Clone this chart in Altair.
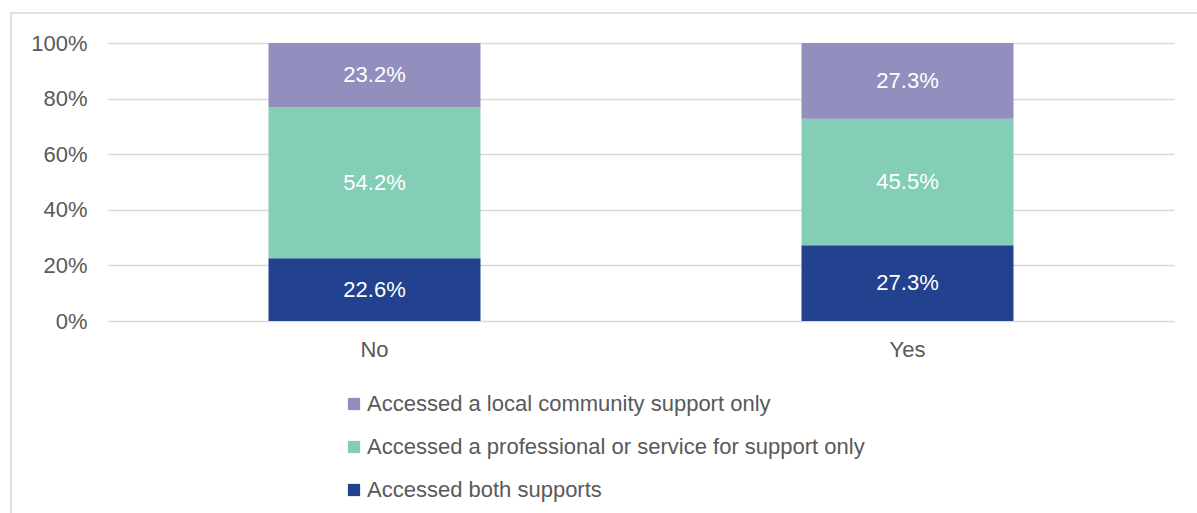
import altair as alt
import pandas as pd

groups = ["No", "Yes"]
series = [
    "Accessed a local community support only",
    "Accessed a professional or service for support only",
    "Accessed both supports",
]
colors = ["#928fbe", "#84cdb7", "#22418e"]
# values per series, for groups No / Yes
local_only = [23.2, 27.3]
professional_only = [54.2, 45.5]
both = [22.6, 27.3]

rows = []
for i, g in enumerate(groups):
    for s, vals, order in [(series[2], both, 0), (series[1], professional_only, 1), (series[0], local_only, 2)]:
        rows.append({"group": g, "series": s, "value": vals[i], "order": order})
df = pd.DataFrame(rows)

FONT = "Liberation Sans"
GREY = "#595959"
FS = 22

base = alt.Chart(df).transform_stack(
    stack="value", groupby=["group"], as_=["y0", "y1"],
    sort=[alt.SortField("order", order="ascending")], offset="normalize"
).transform_calculate(ymid="(datum.y0 + datum.y1) / 2")

x_enc = alt.X("group:N", sort=groups, title=None,
              scale=alt.Scale(paddingInner=0, paddingOuter=0),
              axis=alt.Axis(labelAngle=0, ticks=False, domain=False, labelPadding=18,
                            labelFontSize=FS, labelColor=GREY, labelFont=FONT, grid=False))

bars = base.mark_bar(size=212).encode(
    x=x_enc,
    y=alt.Y("y0:Q", scale=alt.Scale(domain=[0, 1]), title=None,
            axis=alt.Axis(format="%", values=[0, 0.2, 0.4, 0.6, 0.8, 1.0], ticks=False,
                          domain=False, labelPadding=21, labelFontSize=FS, labelColor=GREY,
                          labelFont=FONT, gridColor="#d9d9d9", gridWidth=1.5)),
    y2="y1:Q",
    color=alt.Color("series:N", scale=alt.Scale(domain=series, range=colors),
                    legend=alt.Legend(title=None, orient="none", legendX=235, legendY=350,
                                      direction="vertical", symbolType="square", symbolSize=150,
                                      symbolStrokeWidth=0, labelFontSize=FS, labelColor=GREY,
                                      labelFont=FONT, rowPadding=21, labelOffset=2,
                                      labelLimit=0)),
    order=alt.Order("order:Q"),
)

labels = base.mark_text(color="white", fontSize=FS, font=FONT).encode(
    x=alt.X("group:N", sort=groups),
    y=alt.Y("ymid:Q"),
).transform_calculate(label="format(datum.value, '.1f') + '%'").encode(text="label:N")

border = alt.Chart(pd.DataFrame({"a": [0]})).mark_rect(
    fill=None, stroke="#d9d9d9", strokeWidth=1.5
).encode(x=alt.value(-97), x2=alt.value(1095), y=alt.value(-30), y2=alt.value(500))

chart = alt.layer(border, bars, labels).properties(
    width=1066, height=278,
    autosize=alt.AutoSizeParams(type="none"),
    padding={"left": 108, "top": 43, "right": 23, "bottom": 192},
    background="white",
).configure_view(stroke=None)

chart.save("out.html", embed_options={"renderer": "svg", "actions": False})
